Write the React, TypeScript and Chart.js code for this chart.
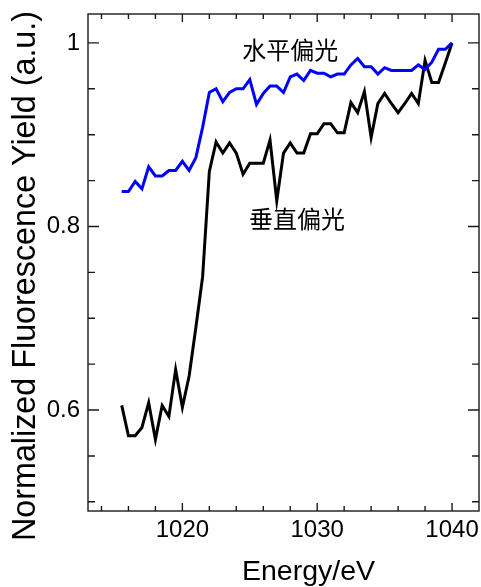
import React, { useEffect, useRef } from 'react';
import { Chart, registerables } from 'chart.js';

Chart.register(...registerables);

// ---- data ----
const energy = [
  1015.5, 1016, 1016.5, 1017, 1017.5, 1018, 1018.5, 1019, 1019.5, 1020,
  1020.5, 1021, 1021.5, 1022, 1022.5, 1023, 1023.5, 1024, 1024.5, 1025,
  1025.5, 1026, 1026.5, 1027, 1027.5, 1028, 1028.5, 1029, 1029.5, 1030,
  1030.5, 1031, 1031.5, 1032, 1032.5, 1033, 1033.5, 1034, 1034.5, 1035,
  1035.5, 1036, 1036.5, 1037, 1037.5, 1038, 1038.5, 1039, 1039.5, 1040,
];

const horizontalPol = [
  0.838, 0.838, 0.849, 0.841, 0.865, 0.855, 0.855, 0.861, 0.861, 0.871,
  0.861, 0.875, 0.908, 0.946, 0.950, 0.936, 0.946, 0.950, 0.950, 0.960,
  0.933, 0.945, 0.953, 0.953, 0.946, 0.963, 0.966, 0.959, 0.970, 0.967,
  0.967, 0.963, 0.966, 0.966, 0.976, 0.983, 0.974, 0.974, 0.966, 0.973,
  0.970, 0.970, 0.970, 0.970, 0.976, 0.971, 0.979, 0.993, 0.993, 1.000,
];

const verticalPol = [
  0.605, 0.572, 0.572, 0.581, 0.608, 0.568, 0.605, 0.593, 0.644, 0.603,
  0.637, 0.690, 0.745, 0.860, 0.892, 0.880, 0.891, 0.880, 0.857, 0.869,
  0.869, 0.869, 0.894, 0.828, 0.880, 0.891, 0.880, 0.880, 0.901, 0.901,
  0.912, 0.912, 0.902, 0.902, 0.935, 0.924, 0.947, 0.897, 0.934, 0.945,
  0.934, 0.924, 0.934, 0.945, 0.934, 0.981, 0.957, 0.957, 0.978, 1.000,
];

const xMajorTicks = [1020, 1030, 1040];
const xTickLabels = ['1020', '1030', '1040'];
const xMinorTicks = [1014, 1016, 1018, 1022, 1024, 1026, 1028, 1032, 1034, 1036, 1038];
const yMajorTicks = [0.6, 0.8, 1.0];
const yTickLabels = ['0.6', '0.8', '1'];
const yMinorTicks = [0.5, 0.55, 0.65, 0.7, 0.75, 0.85, 0.9, 0.95];

const seriesLabels = ['水平偏光', '垂直偏光'];
const labelAnchors = [
  { x: 1028.0, y: 0.992 },
  { x: 1028.5, y: 0.808 },
];

const xTitle = 'Energy/eV';
const yTitle = 'Normalized Fluorescence Yield (a.u.)';

const FONT = '"Liberation Sans", Arial, Helvetica, sans-serif';
const CJK = '"Noto Sans CJK SC", "Noto Sans CJK JP", sans-serif';

const frameTicksPlugin = {
  id: 'frameTicks',
  afterDatasetsDraw(chart: any) {
    const { ctx, chartArea, scales } = chart;
    const { left, right, top, bottom } = chartArea;
    const xs = scales.x;
    const ys = scales.y;
    ctx.save();
    ctx.strokeStyle = '#1a1a1a';
    ctx.lineWidth = 1.4;
    ctx.strokeRect(left, top, right - left, bottom - top);
    ctx.beginPath();
    const xTick = (v: number, len: number) => {
      const px = xs.getPixelForValue(v);
      ctx.moveTo(px, bottom);
      ctx.lineTo(px, bottom - len);
      ctx.moveTo(px, top);
      ctx.lineTo(px, top + len);
    };
    const yTick = (v: number, len: number) => {
      const py = ys.getPixelForValue(v);
      ctx.moveTo(left, py);
      ctx.lineTo(left + len, py);
      ctx.moveTo(right, py);
      ctx.lineTo(right - len, py);
    };
    xMajorTicks.forEach((v) => xTick(v, 8));
    xMinorTicks.forEach((v) => xTick(v, 5));
    yMajorTicks.forEach((v) => yTick(v, 11));
    yMinorTicks.forEach((v) => yTick(v, 7));
    ctx.stroke();

    ctx.fillStyle = '#000';
    ctx.font = `24px ${CJK}`;
    ctx.textAlign = 'center';
    ctx.textBaseline = 'middle';
    seriesLabels.forEach((t, i) => {
      ctx.fillText(t, xs.getPixelForValue(labelAnchors[i].x), ys.getPixelForValue(labelAnchors[i].y));
    });

    // axis titles
    ctx.font = `28.5px ${FONT}`;
    ctx.fillText(xTitle, left + 220.5, bottom + 61);
    ctx.save();
    ctx.translate(left - 62, top + 262);
    ctx.rotate(-Math.PI / 2);
    ctx.font = `32.3px ${FONT}`;
    ctx.fillText(yTitle, 0, 0);
    ctx.restore();
    ctx.restore();
  },
};

export default function App() {
  const ref = useRef<HTMLCanvasElement | null>(null);
  useEffect(() => {
    if (!ref.current) return;
    const chart = new Chart(ref.current, {
      type: 'line',
      data: {
        datasets: [
          {
            label: seriesLabels[0],
            data: energy.map((e, i) => ({ x: e, y: horizontalPol[i] })),
            borderColor: '#0000ff',
            borderWidth: 3,
            pointRadius: 0,
            tension: 0,
            fill: false,
          },
          {
            label: seriesLabels[1],
            data: energy.map((e, i) => ({ x: e, y: verticalPol[i] })),
            borderColor: '#000000',
            borderWidth: 3,
            pointRadius: 0,
            tension: 0,
            fill: false,
          },
        ],
      },
      options: {
        animation: false,
        responsive: false,
        devicePixelRatio: 1,
        layout: { padding: { top: 14, right: 2, left: 0, bottom: 0 } },
        plugins: { legend: { display: false }, tooltip: { enabled: false } },
        scales: {
          x: {
            type: 'linear',
            min: 1013,
            max: 1042,
            grid: { display: false, drawTicks: false },
            border: { display: false },
            afterBuildTicks: (s: any) => {
              s.ticks = xMajorTicks.map((v) => ({ value: v }));
            },
            afterFit: (s: any) => {
              s.height = 76;
              s.paddingLeft = 0;
              s.paddingRight = 0;
              s.paddingTop = 0;
              s.paddingBottom = 0;
            },
            ticks: {
              autoSkip: false,
              maxRotation: 0,
              padding: 5,
              color: '#000',
              font: { family: FONT, size: 24 },
              callback: (v: any) => {
                const i = xMajorTicks.indexOf(Number(v));
                return i >= 0 ? xTickLabels[i] : '';
              },
            },
          },
          y: {
            type: 'linear',
            min: 0.49,
            max: 1.0315,
            grid: { display: false, drawTicks: false },
            border: { display: false },
            afterBuildTicks: (s: any) => {
              s.ticks = yMajorTicks.map((v) => ({ value: v }));
            },
            afterFit: (s: any) => {
              s.width = 88;
              s.paddingLeft = 0;
              s.paddingRight = 0;
              s.paddingTop = 0;
              s.paddingBottom = 0;
            },
            ticks: {
              autoSkip: false,
              padding: 8,
              color: '#000',
              font: { family: FONT, size: 24 },
              callback: (v: any) => {
                const i = yMajorTicks.findIndex((t) => Math.abs(t - Number(v)) < 1e-6);
                return i >= 0 ? yTickLabels[i] : '';
              },
            },
          },
        },
      },
      plugins: [frameTicksPlugin],
    });
    return () => chart.destroy();
  }, []);

  return (
    <div style={{ position: 'absolute', left: 0, top: 0, width: 481, height: 587, background: '#fff' }}>
      <canvas ref={ref} width={481} height={587} />
    </div>
  );
}
